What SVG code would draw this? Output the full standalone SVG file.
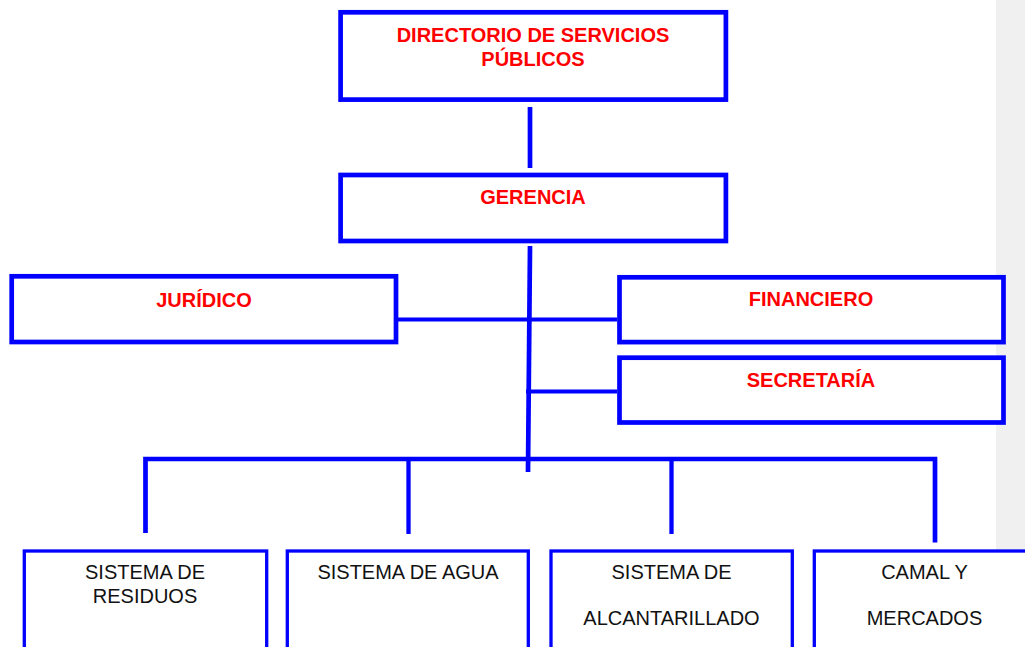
<svg xmlns="http://www.w3.org/2000/svg" width="1025" height="647" viewBox="0 0 1025 647">
<style>
.main{fill:#fff;stroke:#0000ff;stroke-width:4.7}
.sub{fill:#fff;stroke:#0000ff;stroke-width:3.3}
.t1{font-family:"Liberation Sans",Arial,sans-serif;font-weight:bold;font-size:20px;fill:#ff0000;text-anchor:middle}
.t2{font-family:"Liberation Sans",Arial,sans-serif;font-size:20px;fill:#111;text-anchor:middle}
.c{stroke:#0000ff;fill:none}
</style>
<rect x="996" y="0" width="29" height="647" fill="#f0f0f0"/>
<g id="connectors">
<line class="c" x1="530" y1="107" x2="530" y2="168" stroke-width="4.7"/>
<line class="c" x1="530" y1="246" x2="528" y2="472" stroke-width="4.7"/>
<line class="c" x1="398" y1="319.5" x2="617" y2="319.5" stroke-width="4"/>
<line class="c" x1="526" y1="391.5" x2="617" y2="391.5" stroke-width="4"/>
<polyline class="c" points="145.5,533 145.5,459 935,459 935,542.5" stroke-width="4.7"/>
<line class="c" x1="408.5" y1="459" x2="408.5" y2="534" stroke-width="4.3"/>
<line class="c" x1="671.5" y1="459" x2="671.5" y2="534" stroke-width="4.3"/>
</g>
<g id="directorio">
<rect class="main" x="340.6" y="12.3" width="385.3" height="87.3"/>
<text class="t1" x="533" y="42">DIRECTORIO DE SERVICIOS</text>
<text class="t1" x="533" y="66">PÚBLICOS</text>
</g>
<g id="gerencia">
<rect class="main" x="340.6" y="175" width="385.3" height="66"/>
<text class="t1" x="533" y="204">GERENCIA</text>
</g>
<g id="juridico">
<rect class="main" x="11.7" y="276.3" width="384.3" height="65.7"/>
<text class="t1" x="204" y="307">JURÍDICO</text>
</g>
<g id="financiero">
<rect class="main" x="619.5" y="277.3" width="384" height="64.8"/>
<text class="t1" x="811" y="306">FINANCIERO</text>
</g>
<g id="secretaria">
<rect class="main" x="619.5" y="357.7" width="384" height="64.8"/>
<text class="t1" x="811" y="387">SECRETARÍA</text>
</g>
<g id="residuos">
<rect class="sub" x="24.3" y="551" width="242.4" height="120"/>
<text class="t2" x="145" y="579">SISTEMA DE</text>
<text class="t2" x="145" y="603">RESIDUOS</text>
</g>
<g id="agua">
<rect class="sub" x="287.3" y="551" width="241" height="120"/>
<text class="t2" x="408" y="579">SISTEMA DE AGUA</text>
</g>
<g id="alcantarillado">
<rect class="sub" x="551" y="551" width="241.3" height="120"/>
<text class="t2" x="671.5" y="579">SISTEMA DE</text>
<text class="t2" x="671.5" y="625">ALCANTARILLADO</text>
</g>
<g id="camal">
<rect class="sub" x="814.3" y="551" width="243" height="120"/>
<text class="t2" x="924.5" y="579">CAMAL Y</text>
<text class="t2" x="924.5" y="625">MERCADOS</text>
</g>
</svg>
